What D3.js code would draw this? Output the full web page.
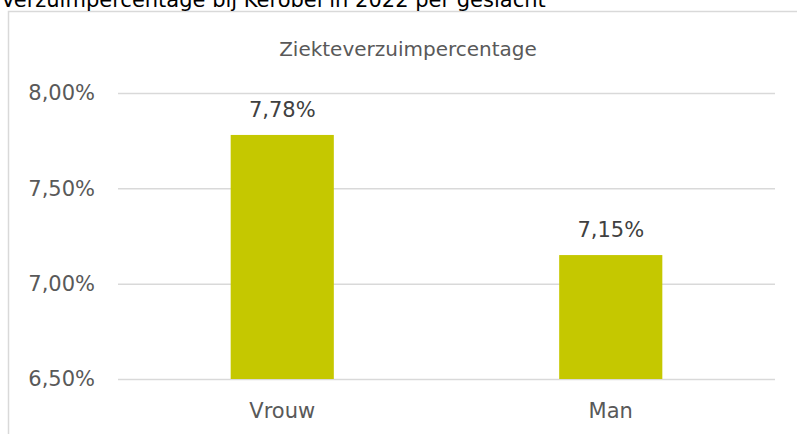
<!DOCTYPE html>
<html>
<head>
<meta charset="utf-8">
<script src="https://cdn.jsdelivr.net/npm/d3@7"></script>
<style>
  body { margin: 0; background: #fff; }
  svg { display: block; font-family: "DejaVu Sans", Verdana, sans-serif; }
</style>
</head>
<body>
<div id="chart"></div>
<script>
// data
const categories = ["Vrouw", "Man"];
const values = [7.78, 7.15];
const yTicks = [6.5, 7.0, 7.5, 8.0];

const width = 797, height = 434;
const plot = { left: 118, right: 775, top: 93, bottom: 379 };

const svg = d3.select("#chart")
  .append("svg")
  .attr("width", width)
  .attr("height", height);

// chart frame (partly outside the window)
svg.append("rect")
  .attr("x", 8.5)
  .attr("y", 11.5)
  .attr("width", 820)
  .attr("height", 440)
  .attr("fill", "none")
  .attr("stroke", "#d9d9d9")
  .attr("stroke-width", 1.5);

// caption above the frame, cut off at the top like in the source
svg.append("text")
  .attr("x", 1)
  .attr("y", 7)
  .style("font-size", "21px")
  .style("fill", "#000")
  .text("Verzuimpercentage bij Kerobel in 2022 per geslacht");

var xScale = d3.scaleBand()
  .domain(categories)
  .range([plot.left, plot.right])
  .paddingInner(0.686)
  .paddingOuter(0.343);

var yScale = d3.scaleLinear()
  .domain([6.5, 8.0])
  .range([plot.bottom, plot.top]);

const fmt = function (d) { return d3.format(".2f")(d).replace(".", ",") + "%"; };

// gridlines + y labels
var yAxis = svg.append("g")
  .attr("transform", "translate(" + plot.left + ",0)")
  .call(
    d3.axisLeft(yScale)
      .tickValues(yTicks)
      .tickFormat(fmt)
      .tickSize(-(plot.right - plot.left))
      .tickPadding(23)
  );
yAxis.select(".domain").remove();
yAxis.selectAll(".tick line")
  .attr("stroke", "#d9d9d9")
  .attr("stroke-width", 1.5);
yAxis.selectAll(".tick text")
  .style("font-size", "21px")
  .style("font-family", "DejaVu Sans, Verdana, sans-serif")
  .style("fill", "#595959");

// x labels
var xAxis = svg.append("g")
  .attr("transform", "translate(0," + plot.bottom + ")")
  .call(d3.axisBottom(xScale).tickSize(0).tickPadding(24));
xAxis.select(".domain").remove();
xAxis.selectAll(".tick text")
  .style("font-size", "21px")
  .style("font-family", "DejaVu Sans, Verdana, sans-serif")
  .style("fill", "#595959");

// bars
svg.selectAll(".bar")
  .data(values)
  .enter()
  .append("rect")
  .attr("class", "bar")
  .attr("x", function (d, i) { return xScale(categories[i]); })
  .attr("y", function (d) { return yScale(d); })
  .attr("width", xScale.bandwidth())
  .attr("height", function (d) { return plot.bottom - yScale(d); })
  .attr("fill", "#c5c800");

// value labels
svg.selectAll(".label")
  .data(values)
  .enter()
  .append("text")
  .attr("class", "label")
  .attr("x", function (d, i) { return xScale(categories[i]) + xScale.bandwidth() / 2; })
  .attr("y", function (d) { return yScale(d) - 18; })
  .attr("text-anchor", "middle")
  .style("font-size", "21px")
  .style("fill", "#404040")
  .text(fmt);

// chart title
svg.append("text")
  .attr("x", 408)
  .attr("y", 56)
  .attr("text-anchor", "middle")
  .style("font-size", "20px")
  .style("fill", "#595959")
  .text("Ziekteverzuimpercentage");
</script>
</body>
</html>
